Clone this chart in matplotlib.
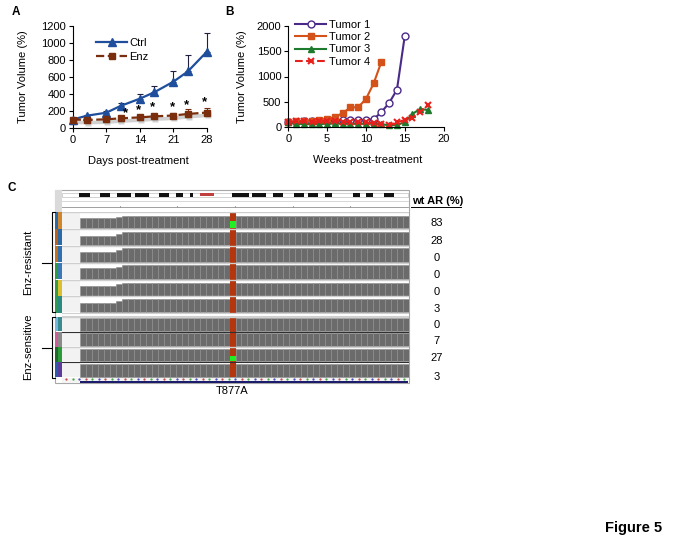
import numpy as np
import matplotlib
matplotlib.use('Agg')
import matplotlib.pyplot as plt
import matplotlib.transforms as mtransforms
from matplotlib.patches import Rectangle

plt.rcParams['font.family'] = 'Liberation Sans'
plt.rcParams['font.size'] = 8

W, H = 688, 552

# ---- panel A data ----
days = [0, 3, 7, 10, 14, 17, 21, 24, 28]
ctrl_vol = [100, 145, 180, 260, 345, 420, 545, 665, 900]
ctrl_err = [0, 8, 15, 38, 55, 75, 120, 195, 215]
enz_vol = [100, 95, 102, 114, 125, 137, 147, 165, 182]
enz_err = [0, 5, 8, 12, 15, 20, 30, 55, 58]
star_days = [11, 13.7, 16.7, 20.8, 23.7, 27.4]
star_vol = [180, 212, 240, 250, 265, 305]

# ---- panel B data ----
weeks_t1 = list(range(16))
tumor1 = [100, 110, 120, 115, 120, 130, 135, 140, 140, 150, 140, 160, 300, 480, 740, 1790]
weeks_t2 = list(range(13))
tumor2 = [100, 115, 120, 130, 145, 165, 200, 280, 390, 395, 555, 865, 1290]
weeks_t34 = list(range(19))
tumor3 = [100, 70, 65, 60, 65, 70, 75, 70, 70, 65, 70, 70, 60, 40, 45, 100, 265, 360, 340]
tumor4 = [100, 120, 115, 105, 115, 125, 120, 110, 105, 100, 95, 85, 70, 40, 95, 145, 190, 300, 440]

# ---- panel C data (IGV view) ----
wt_ar = [83, 28, 0, 0, 0, 3, 0, 7, 27, 3]
cov_low = [0.67, 0.63, 0.67, 0.71, 0.62, 0.62, 0.97, 0.97, 0.97, 0.97]
cov_high = [0.80, 0.90, 0.94, 0.92, 0.87, 0.87, 0.97, 0.97, 0.97, 0.97]
green_frac = [0.48, 0, 0, 0, 0, 0, 0, 0, 0.42, 0]
strip_colors = [('#2a6aa8', '#d0862a'), ('#b8601e', '#2a6aa8'), ('#c2701e', '#3070b0'),
                ('#2e9a40', '#3a78b8'), ('#3a9a3a', '#d8c030'), ('#2a9a50', '#2a8a80'),
                ('#70b8e0', '#3a8a90'), ('#d05a9a', '#8a8a8a'), ('#1e6a2a', '#2a9a3a'),
                ('#2a5aa8', '#5a3a9a')]
cytobands = [(0.05, 0.08), (0.11, 0.14), (0.16, 0.20), (0.21, 0.25), (0.28, 0.31),
             (0.33, 0.35), (0.37, 0.38), (0.49, 0.54), (0.55, 0.59), (0.61, 0.64),
             (0.67, 0.70), (0.71, 0.74), (0.76, 0.78), (0.84, 0.86), (0.88, 0.90),
             (0.93, 0.96)]
n_bins = 58
mut_bin = 28


def px_rect(x0, y0, x1, y1):
    return [x0 / W, 1 - y1 / H, (x1 - x0) / W, (y1 - y0) / H]


def style_axes(ax):
    for s in ['top', 'right']:
        ax.spines[s].set_visible(False)
    for s in ['left', 'bottom']:
        ax.spines[s].set_linewidth(0.8)
    ax.tick_params(direction='out', length=3, width=0.8, labelsize=8, pad=2)
    ax.patch.set_alpha(0)


def no_clip(container):
    for part in container.get_children():
        part.set_clip_on(False)


fig = plt.figure(figsize=(W / 100, H / 100), dpi=100)

# ---------------- Panel A ----------------
ax_a = fig.add_axes(px_rect(72.7, 26, 207, 128))
ctrl_c = '#1f4e9c'
enz_c = '#7a2e0e'
eb = ax_a.errorbar(days, ctrl_vol, yerr=[np.zeros(len(ctrl_err)), ctrl_err], fmt='none',
                   ecolor='#202040', elinewidth=0.8, capsize=2.5, capthick=0.8)
no_clip(eb)
eb = ax_a.errorbar(days, enz_vol, yerr=[np.zeros(len(enz_err)), enz_err], fmt='none',
                   ecolor=enz_c, elinewidth=0.8, capsize=2.5, capthick=0.8)
no_clip(eb)
# soft drop shadow under the Enz series
shadow = mtransforms.offset_copy(ax_a.transData, fig=fig, x=0.5, y=-2.0, units='points')
ax_a.plot(days, enz_vol, '-s', color='#9a9a9a', alpha=0.45, lw=2.6, ms=5, mec='none',
          transform=shadow, clip_on=False, zorder=1.5)
ax_a.plot(days, ctrl_vol, '-^', color=ctrl_c, lw=1.6, ms=5.5, label='Ctrl', clip_on=False, zorder=3)
ax_a.plot(days, enz_vol, '--s', color=enz_c, lw=1.6, ms=4, label='Enz', clip_on=False, zorder=3)
for d, v in zip(star_days, star_vol):
    ax_a.text(d, v, '*', ha='center', va='center', fontsize=9.5, fontweight='bold')
ax_a.set_xlim(0, 28)
ax_a.set_ylim(0, 1200)
ax_a.set_xticks([0, 7, 14, 21, 28])
ax_a.set_yticks(range(0, 1201, 200))
ax_a.set_xlabel('Days post-treatment', fontsize=8)
ax_a.set_ylabel('Tumor Volume (%)', fontsize=8)
ax_a.xaxis.set_label_coords(0.49, -0.27)
ax_a.yaxis.set_label_coords(-0.333, 0.5)
style_axes(ax_a)
ax_a.legend(loc='upper left', bbox_to_anchor=(96 / W, 1 - 38 / H), bbox_transform=fig.transFigure,
            frameon=False, fontsize=8, handlelength=2.8, handletextpad=0.2, labelspacing=0.35,
            borderpad=0, borderaxespad=0, numpoints=1)

# ---------------- Panel B ----------------
ax_b = fig.add_axes(px_rect(288.3, 25.7, 443.5, 127.3))
ax_b.plot(weeks_t1, tumor1, '-o', color='#4a2a88', lw=1.5, ms=5, mfc='white', mew=1.0,
          label='Tumor 1', clip_on=False)
ax_b.plot(weeks_t2, tumor2, '-s', color='#d4521a', lw=1.5, ms=4, label='Tumor 2', clip_on=False)
ax_b.plot(weeks_t34, tumor3, '-^', color='#1e7a2c', lw=1.5, ms=5, label='Tumor 3', clip_on=False)
ax_b.plot(weeks_t34, tumor4, '--x', color='#e8201c', lw=1.5, ms=5, mew=1.5, label='Tumor 4', clip_on=False)
ax_b.set_xlim(0, 20)
ax_b.set_ylim(0, 2000)
ax_b.set_xticks(range(0, 21, 5))
ax_b.set_yticks(range(0, 2001, 500))
ax_b.set_xlabel('Weeks post-treatment', fontsize=8)
ax_b.set_ylabel('Tumor Volume (%)', fontsize=8)
ax_b.xaxis.set_label_coords(0.514, -0.275)
ax_b.yaxis.set_label_coords(-0.268, 0.5)
style_axes(ax_b)
ax_b.legend(loc='upper left', bbox_to_anchor=(295 / W, 1 - 19.5 / H), bbox_transform=fig.transFigure,
            frameon=False, fontsize=8, handlelength=2.8, handletextpad=0.25, labelspacing=0.22,
            borderpad=0, borderaxespad=0, numpoints=1)

# ---------------- Panel C ----------------
ax_c = fig.add_axes([0, 0, 1, 1])
ax_c.set_xlim(0, W)
ax_c.set_ylim(H, 0)
ax_c.axis('off')

# IGV frame and header
ax_c.add_patch(Rectangle((55, 190), 354.3, 193.3, fill=False, ec='#a8a8a8', lw=0.8))
ax_c.add_patch(Rectangle((55, 190), 7, 22, fc='#dadada', ec='none'))
ax_c.add_patch(Rectangle((62, 192.5), 346, 4, fc='white', ec='#b0b0b0', lw=0.4))
for s, e in cytobands:
    ax_c.add_patch(Rectangle((62 + 346 * s, 192.5), 346 * (e - s), 4, fc='#111111', ec='none'))
ax_c.add_patch(Rectangle((62 + 346 * 0.40, 193), 346 * 0.04, 3, fc='#c04040', ec='none'))
ax_c.plot([62, 408], [201, 201], color='#c8c8c8', lw=0.5)
ax_c.plot([62, 408], [207.3, 207.3], color='#909090', lw=0.6)
for tx in np.linspace(62, 408, 7)[1:-1]:
    ax_c.plot([tx, tx], [205.5, 207.3], color='#909090', lw=0.6)
ax_c.plot([62, 408], [211.5, 211.5], color='#b0b0b0', lw=0.6)

# track geometry
tops = [212.3 + 16.8 * i for i in range(6)] + [316.7 + 15.2 * i for i in range(4)]
hts = [16.8] * 6 + [15.2] * 4

# sample attribute strips
for i, (c1, c2) in enumerate(strip_colors):
    ax_c.add_patch(Rectangle((54.5, tops[i]), 3.6, hts[i] - 0.6, fc=c1, ec='none'))
    ax_c.add_patch(Rectangle((58.1, tops[i]), 3.4, hts[i] - 0.6, fc=c2, ec='none'))

# coverage tracks
ax_cov = fig.add_axes(px_rect(62, 212.3, 409, 378.3))
ax_cov.set_xlim(0, n_bins)
ax_cov.set_ylim(378.3, 212.3)
ax_cov.axis('off')
bins = np.arange(3, n_bins)
for i in range(10):
    inner = hts[i] - 2.0
    base = tops[i] + hts[i] - 0.8
    ax_cov.bar(0, inner + 0.6, width=3, bottom=base - inner - 0.6, align='edge', color='#f2f2f2',
               edgecolor='none')
    frac = np.where(bins < 9, cov_low[i], np.where(bins == 9, (cov_low[i] + cov_high[i]) / 2, cov_high[i]))
    ax_cov.bar(bins, frac * inner, width=1, bottom=base - frac * inner, align='edge',
               color='#6b6b6b', edgecolor='#8e8e8e', linewidth=0.4)
    ax_cov.bar(mut_bin, inner + 1.4, width=1.1, bottom=base - inner - 0.6, align='edge',
               color='#b3360f', edgecolor='none')
    if green_frac[i] > 0:
        g = green_frac[i] * inner
        ax_cov.bar(mut_bin + 0.1, g, width=0.9, bottom=base - g - 0.3, align='edge',
                   color='#22ee22', edgecolor='none')
for i in range(10):
    col = '#cfcfcf'
    if i in (7, 9):
        col = '#303030'
    ax_cov.axhline(tops[i], color=col, lw=0.8 if col != '#cfcfcf' else 1.0)
ax_cov.axhline(314.5, color='white', lw=3)
ax_cov.axhline(313.2, color='#cfcfcf', lw=0.8)
ax_cov.axhline(316.0, color='#cfcfcf', lw=0.8)

# gene track at bottom
ax_c.add_patch(Rectangle((62, 377.8), 346, 5.2, fc='#f4f4f4', ec='none'))
for k, dx in enumerate(np.arange(66, 406, 6.5)):
    ax_c.plot(dx, 379, marker='.', ms=1.2, color=['#c04040', '#40a040', '#4040c0'][k % 3])
ax_c.add_patch(Rectangle((80, 380.8), 328, 2.4, fc='#1c1c6c', ec='none'))


# brackets
def bracket(y0, y1, ym):
    ax_c.plot([54.5, 51.7, 51.7, 54.5], [y0, y0, y1, y1], color='black', lw=0.8)
    ax_c.plot([41.7, 51.7], [ym, ym], color='black', lw=0.8)


bracket(212.3, 311.7, 263.3)
bracket(316.7, 377.7, 347.7)
ax_c.text(28.3, 262, 'Enz-resistant', rotation=90, ha='center', va='center', fontsize=8)
ax_c.text(28.3, 346.5, 'Enz-sensitive', rotation=90, ha='center', va='center', fontsize=8)
ax_c.text(232, 391, 'T877A', ha='center', va='center', fontsize=8)

# wt AR column
ax_c.text(412, 201.5, 'wt AR (%)', ha='left', va='center', fontsize=8, fontweight='bold')
ax_c.plot([411, 461], [206.5, 206.5], color='black', lw=0.7)
label_y = [223.3, 241, 258.3, 275, 291.7, 309, 325, 341, 358.3, 376.7]
for v, y in zip(wt_ar, label_y):
    ax_c.text(436.7, y, str(v), ha='center', va='center', fontsize=8)

# panel letters and figure label
ax_c.text(16, 11.7, 'A', ha='center', va='center', fontsize=8.5, fontweight='bold')
ax_c.text(230, 11.7, 'B', ha='center', va='center', fontsize=8.5, fontweight='bold')
ax_c.text(12, 188, 'C', ha='center', va='center', fontsize=8.5, fontweight='bold')
ax_c.text(633.5, 528, 'Figure 5', ha='center', va='center', fontsize=10.5, fontweight='bold')

fig.savefig('out.png', dpi=100)
